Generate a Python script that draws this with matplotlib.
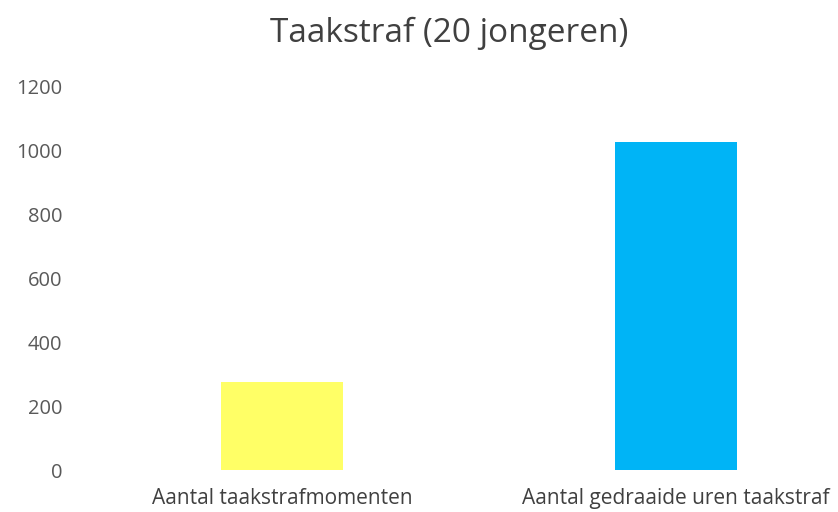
import matplotlib
matplotlib.use("Agg")
import matplotlib.pyplot as plt

categories = ["Aantal taakstrafmomenten", "Aantal gedraaide uren taakstraf"]
values = [275, 1025]
colors = ["#FFFF66", "#00B4F6"]
yticks = [0, 200, 400, 600, 800, 1000, 1200]

plt.rcParams['font.family'] = ['Open Sans', 'DejaVu Sans']

fig = plt.figure(figsize=(8.38, 5.12), dpi=100)
ax = fig.add_axes([90/838, 1 - 470/512, (838-90)/838, (470-86)/512])
x = list(range(len(categories)))
ax.bar(x, values, width=0.31, color=colors)
ax.set_xlim(-0.487, 1.411)
ax.set_ylim(0, 1200)
ax.set_yticks(yticks)
ax.set_yticklabels([str(t) for t in yticks], fontsize=14.5, color="#595959")
ax.set_xticks(x)
ax.set_xticklabels(categories, fontsize=15, color="#404040")
ax.tick_params(axis='both', length=0)
ax.tick_params(axis='y', pad=20)
ax.tick_params(axis='x', pad=13)
for s in ax.spines.values():
    s.set_visible(False)
fig.text(449/838, 1 - 33/512, "Taakstraf (20 jongeren)", fontsize=24, color="#404040",
         ha='center', va='center')
fig.savefig("out.png", dpi=100)
